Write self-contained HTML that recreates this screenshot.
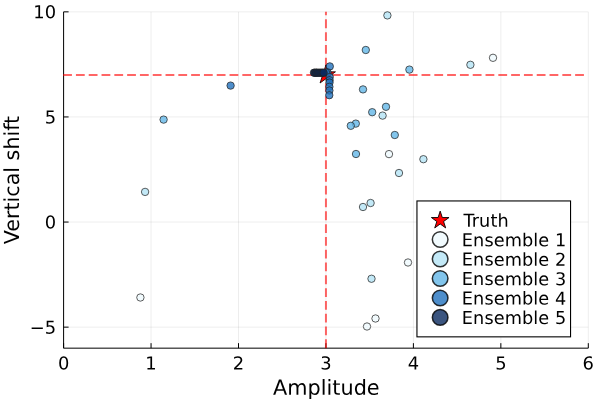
<!DOCTYPE html>
<html><head><meta charset="utf-8"><title>Ensemble scatter</title>
<style>html,body{margin:0;padding:0;background:#fff;}svg{display:block;}text{font-family:"DejaVu Sans", "Liberation Sans", sans-serif;fill:#000;text-rendering:geometricPrecision;}</style></head><body>
<svg width="600" height="400" viewBox="0 0 600 400">
<rect width="600" height="400" fill="#fff"/>
<g stroke="#000" stroke-opacity="0.1" stroke-width="0.7" fill="none">
<line x1="63.60" y1="11.85" x2="63.60" y2="348.17"/>
<line x1="151.05" y1="11.85" x2="151.05" y2="348.17"/>
<line x1="238.50" y1="11.85" x2="238.50" y2="348.17"/>
<line x1="325.95" y1="11.85" x2="325.95" y2="348.17"/>
<line x1="413.40" y1="11.85" x2="413.40" y2="348.17"/>
<line x1="500.85" y1="11.85" x2="500.85" y2="348.17"/>
<line x1="588.30" y1="11.85" x2="588.30" y2="348.17"/>
<line x1="63.60" y1="327.15" x2="588.30" y2="327.15"/>
<line x1="63.60" y1="222.05" x2="588.30" y2="222.05"/>
<line x1="63.60" y1="116.95" x2="588.30" y2="116.95"/>
<line x1="63.60" y1="11.85" x2="588.30" y2="11.85"/>
</g>
<g stroke="#000" stroke-width="1" fill="none">
<path d="M63.60,11.85 L63.60,348.17"/>
<path d="M63.60,348.17 L588.30,348.17"/>
<path d="M63.60,348.17 L63.60,343.17"/>
<path d="M151.05,348.17 L151.05,343.17"/>
<path d="M238.50,348.17 L238.50,343.17"/>
<path d="M325.95,348.17 L325.95,343.17"/>
<path d="M413.40,348.17 L413.40,343.17"/>
<path d="M500.85,348.17 L500.85,343.17"/>
<path d="M588.30,348.17 L588.30,343.17"/>
<path d="M63.60,327.15 L68.60,327.15"/>
<path d="M63.60,222.05 L68.60,222.05"/>
<path d="M63.60,116.95 L68.60,116.95"/>
<path d="M63.60,11.85 L68.60,11.85"/>
</g>
<g stroke="#ff0000" stroke-opacity="0.6" stroke-width="2" fill="none" stroke-dasharray="8.8 4">
<path d="M63.13,74.91 L584,74.91"/>
<path d="M325.95,348.17 L325.95,11.85"/>
</g>
<polygon points="325.95,64.91 328.20,71.82 335.46,71.82 329.58,76.09 331.83,83.00 325.95,78.73 320.07,83.00 322.32,76.09 316.44,71.82 323.70,71.82" fill="#ff0000" stroke="#000" stroke-width="0.8"/>
<g fill="#effafe" fill-opacity="0.8" stroke="#222" stroke-opacity="0.8" stroke-width="0.9">
<circle cx="493" cy="57.8" r="3.7"/>
<circle cx="389" cy="154.1" r="3.7"/>
<circle cx="408" cy="262.5" r="3.7"/>
<circle cx="375.5" cy="318.5" r="3.7"/>
<circle cx="367" cy="326.5" r="3.7"/>
<circle cx="140.4" cy="297.5" r="3.7"/>
</g>
<g fill="#b4e3f5" fill-opacity="0.8" stroke="#222" stroke-opacity="0.8" stroke-width="0.9">
<circle cx="387.4" cy="15.4" r="3.7"/>
<circle cx="470.4" cy="64.8" r="3.7"/>
<circle cx="382.6" cy="115.6" r="3.7"/>
<circle cx="423.4" cy="159.2" r="3.7"/>
<circle cx="399" cy="173" r="3.7"/>
<circle cx="370.6" cy="203" r="3.7"/>
<circle cx="363" cy="207" r="3.7"/>
<circle cx="371.5" cy="278.75" r="3.7"/>
<circle cx="145.1" cy="191.9" r="3.7"/>
</g>
<g fill="#63b7e7" fill-opacity="0.8" stroke="#222" stroke-opacity="0.8" stroke-width="0.9">
<circle cx="365.8" cy="50" r="3.7"/>
<circle cx="409.4" cy="69.6" r="3.7"/>
<circle cx="363" cy="89.4" r="3.7"/>
<circle cx="386" cy="106.8" r="3.7"/>
<circle cx="372.2" cy="112.2" r="3.7"/>
<circle cx="355.8" cy="123.6" r="3.7"/>
<circle cx="350.8" cy="125.8" r="3.7"/>
<circle cx="394.8" cy="135" r="3.7"/>
<circle cx="356" cy="154" r="3.7"/>
<circle cx="163.6" cy="119.6" r="3.7"/>
</g>
<g fill="#2272be" fill-opacity="0.8" stroke="#222" stroke-opacity="0.8" stroke-width="0.9">
<circle cx="230.6" cy="85.6" r="3.7"/>
<circle cx="329.8" cy="66.4" r="3.7"/>
<circle cx="327.5" cy="72.3" r="3.7"/>
<circle cx="326.0" cy="72.5" r="3.7"/>
<circle cx="329.7" cy="77.0" r="3.7"/>
<circle cx="329.6" cy="80.2" r="3.7"/>
<circle cx="329.5" cy="82.6" r="3.7"/>
<circle cx="329.4" cy="86.8" r="3.7"/>
<circle cx="329.4" cy="90.5" r="3.7"/>
<circle cx="329.3" cy="95.2" r="3.7"/>
</g>
<g fill="#0a2a5f" fill-opacity="0.8" stroke="#222" stroke-opacity="0.8" stroke-width="0.9">
<circle cx="314.0" cy="72.7" r="3.7"/>
<circle cx="314.8" cy="72.7" r="3.7"/>
<circle cx="316.1" cy="72.7" r="3.7"/>
<circle cx="316.5" cy="72.7" r="3.7"/>
<circle cx="317.8" cy="72.7" r="3.7"/>
<circle cx="319" cy="72.7" r="3.7"/>
<circle cx="320.2" cy="72.7" r="3.7"/>
<circle cx="321.4" cy="72.7" r="3.7"/>
<circle cx="322.6" cy="72.7" r="3.7"/>
<circle cx="323.6" cy="72.7" r="3.7"/>
</g>
<g font-size="17.9">
<text transform="translate(63.60,369.4) rotate(0.05)" text-anchor="middle">0</text>
<text transform="translate(151.05,369.4) rotate(0.05)" text-anchor="middle">1</text>
<text transform="translate(238.50,369.4) rotate(0.05)" text-anchor="middle">2</text>
<text transform="translate(325.95,369.4) rotate(0.05)" text-anchor="middle">3</text>
<text transform="translate(413.40,369.4) rotate(0.05)" text-anchor="middle">4</text>
<text transform="translate(500.85,369.4) rotate(0.05)" text-anchor="middle">5</text>
<text transform="translate(588.30,369.4) rotate(0.05)" text-anchor="middle">6</text>
<text transform="translate(56.1,333.65) rotate(0.05)" text-anchor="end">−5</text>
<text transform="translate(56.1,228.55) rotate(0.05)" text-anchor="end">0</text>
<text transform="translate(56.1,123.45) rotate(0.05)" text-anchor="end">5</text>
<text transform="translate(56.1,18.35) rotate(0.05)" text-anchor="end">10</text>
</g>
<text transform="translate(326.35,394.7) rotate(0.05)" font-size="20.8" text-anchor="middle">Amplitude</text>
<text transform="translate(18.6,180.01) rotate(-90)" font-size="20.65" text-anchor="middle">Vertical shift</text>
<rect x="416.95" y="200.95" width="153.6" height="135.9" fill="#fff" stroke="#000" stroke-width="1.1"/>
<polygon points="440.20,211.10 442.29,217.53 449.04,217.53 443.58,221.50 445.67,227.92 440.20,223.95 434.73,227.92 436.82,221.50 431.36,217.53 438.11,217.53" fill="#ff0000" stroke="#000" stroke-width="0.9"/>
<circle cx="440.15" cy="239.55" r="7.8" fill="#effafe" fill-opacity="0.8" stroke="#000" stroke-opacity="0.8" stroke-width="1.5"/>
<circle cx="440.15" cy="259.0" r="7.8" fill="#b4e3f5" fill-opacity="0.8" stroke="#000" stroke-opacity="0.8" stroke-width="1.5"/>
<circle cx="440.15" cy="278.5" r="7.8" fill="#63b7e7" fill-opacity="0.8" stroke="#000" stroke-opacity="0.8" stroke-width="1.5"/>
<circle cx="440.15" cy="297.95" r="7.8" fill="#2272be" fill-opacity="0.8" stroke="#000" stroke-opacity="0.8" stroke-width="1.5"/>
<circle cx="440.15" cy="317.4" r="7.8" fill="#0a2a5f" fill-opacity="0.8" stroke="#000" stroke-opacity="0.8" stroke-width="1.5"/>
<g font-size="17.7">
<text transform="translate(463.4,226.70) rotate(0.05)" letter-spacing="0.1">Truth</text>
<text transform="translate(461.8,246.15) rotate(0.05)" letter-spacing="0.1">Ensemble 1</text>
<text transform="translate(461.8,265.60) rotate(0.05)" letter-spacing="0.1">Ensemble 2</text>
<text transform="translate(461.8,285.10) rotate(0.05)" letter-spacing="0.1">Ensemble 3</text>
<text transform="translate(461.8,304.55) rotate(0.05)" letter-spacing="0.1">Ensemble 4</text>
<text transform="translate(461.8,324.00) rotate(0.05)" letter-spacing="0.1">Ensemble 5</text>
</g>
</svg></body></html>
